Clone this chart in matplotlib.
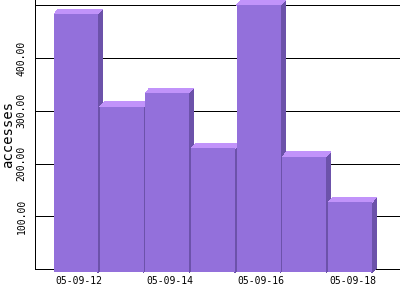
import matplotlib
matplotlib.use("Agg")
import matplotlib.pyplot as plt
from matplotlib.patches import Polygon, Rectangle

categories = ["05-09-12", "05-09-13", "05-09-14", "05-09-15", "05-09-16", "05-09-17", "05-09-18"]
values = [489, 314, 340, 235, 506, 219, 133]
yticks = [100, 200, 300, 400, 500]
ytick_labels = ["100.00", "200.00", "300.00", "400.00", ""]

FRONT = "#9370DB"
TOP = "#C193FA"
SIDE = "#6C52AA"

fig = plt.figure(figsize=(4, 3), dpi=100)
ax = fig.add_axes([35 / 400, 30.7 / 300, 365 / 400, 269.3 / 300])
ax.set_xlim(-0.896, 7.096)
ax.set_ylim(0, 509.6)

for y in yticks:
    ax.axhline(y, color="black", lw=0.72, zorder=1, snap=True)

w = 0.96
dx = 0.1
dy = 9.0
off = 6.0
for i, v in enumerate(values):
    x0 = i - w / 2
    x1 = i + w / 2
    yb = -off
    yt = v - off
    side = Polygon([(x1, yb), (x1 + dx, yb + dy), (x1 + dx, yt + dy), (x1, yt)],
                   closed=True, facecolor=SIDE, edgecolor="none", zorder=3 + i * 0.1,
                   clip_on=False, antialiased=False)
    top = Polygon([(x0, yt), (x0 + dx, yt + dy), (x1 + dx, yt + dy), (x1, yt)],
                  closed=True, facecolor=TOP, edgecolor="none", zorder=3 + i * 0.1,
                  clip_on=False, antialiased=False)
    front = Rectangle((x0, yb), w, v, facecolor=FRONT, edgecolor="none",
                      zorder=3.05 + i * 0.1, clip_on=False, antialiased=False)
    ax.add_patch(side)
    ax.add_patch(top)
    ax.add_patch(front)

ax.set_yticks(yticks)
ax.set_yticklabels(ytick_labels, rotation=90, va="center",
                   fontfamily="DejaVu Sans Mono", fontsize=7)
tick_idx = [0, 2, 4, 6]
ax.set_xticks([i + 0.06 for i in tick_idx])
ax.set_xticklabels([categories[i] for i in tick_idx],
                   fontfamily="DejaVu Sans Mono", fontsize=7)
ax.tick_params(axis="both", length=0)
ax.tick_params(axis="x", pad=5.0)
ax.tick_params(axis="y", pad=6.0)

ax.set_ylabel("accesses", fontfamily="DejaVu Sans Mono", fontsize=10, labelpad=1)

for s in ["top", "right"]:
    ax.spines[s].set_visible(False)
ax.spines["left"].set_color("black")
ax.spines["bottom"].set_color("black")
ax.spines["left"].set_linewidth(0.72)
ax.spines["bottom"].set_linewidth(0.72)
ax.spines["bottom"].set_zorder(2)

fig.savefig("out.png", dpi=100)
